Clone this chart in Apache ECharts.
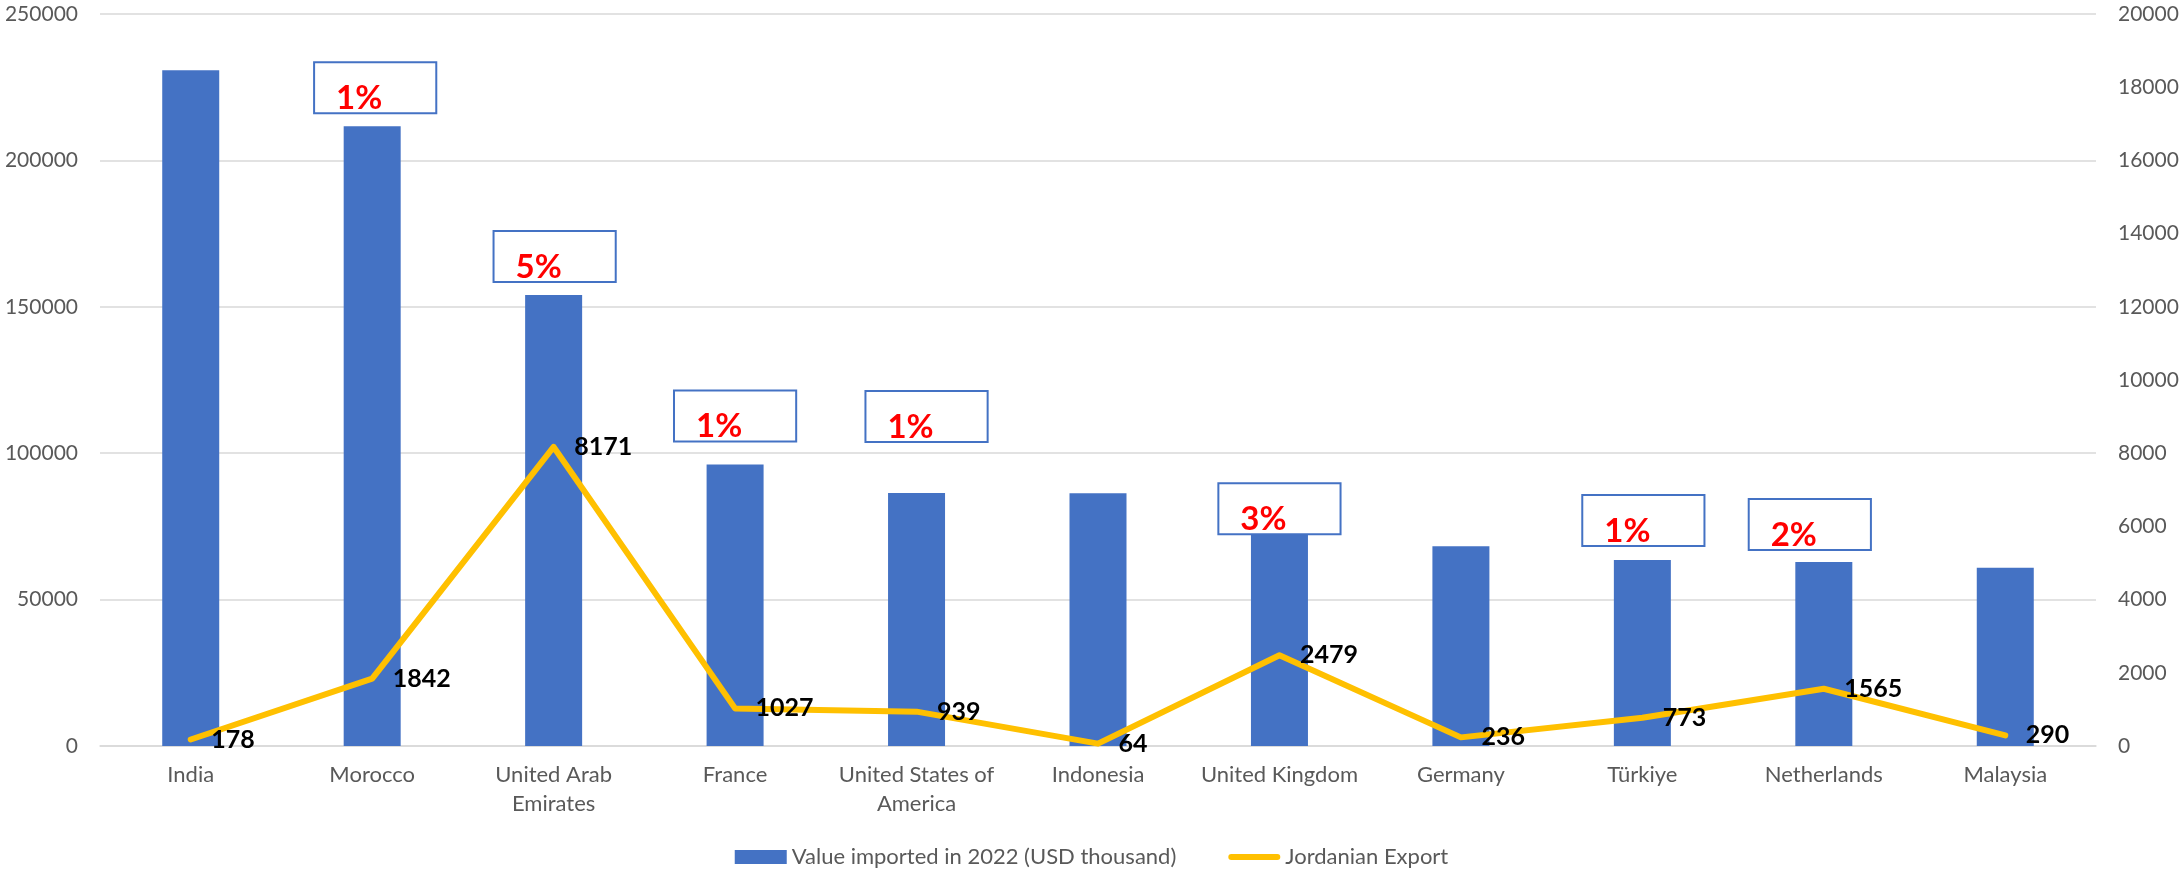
<!DOCTYPE html>
<html>
<head>
<meta charset="utf-8">
<script src="https://cdn.jsdelivr.net/npm/echarts@6/dist/echarts.min.js"></script>
<style>
  html, body { margin: 0; padding: 0; background: #fff; }
  #chart { width: 2183px; height: 871px; }
</style>
</head>
<body>
<div id="chart"></div>
<script>
const countries = [
  'India', 'Morocco', 'United Arab\nEmirates', 'France', 'United States of\nAmerica',
  'Indonesia', 'United Kingdom', 'Germany', 'Türkiye', 'Netherlands', 'Malaysia'
];
const importValues = [230800, 211700, 154000, 96100, 86400, 86300, 72700, 68200, 63500, 62800, 60900];
const jordanianExport = [178, 1842, 8171, 1027, 939, 64, 2479, 236, 773, 1565, 290];
const exportShares = ['', '1%', '5%', '1%', '1%', '', '3%', '', '1%', '2%', ''];

const FONT = 'Lato, "Open Sans", sans-serif';
const GREY = '#595959';

// the share boxes were placed by hand in the original, so nudge a few of them
const boxTweaks = {
  1: { distance: 14, offset: [3, 0] },
  2: { distance: 14, offset: [1, 0] },
  3: { distance: 24, offset: [0, 0] },
  4: { distance: 52, offset: [10, 0] },
  6: { distance: 0, offset: [0, 0] },
  8: { distance: 15, offset: [1, 0] },
  9: { distance: 13, offset: [-14, 0] }
};

const barData = importValues.map((v, i) => {
  if (!exportShares[i]) return { value: v, label: { show: false } };
  const t = boxTweaks[i] || { distance: 14, offset: [0, 0] };
  return { value: v, label: { show: true, distance: t.distance, offset: t.offset } };
});

const plain = (v) => String(v);

const chart = echarts.init(document.getElementById('chart'));

chart.setOption({
  animation: false,
  grid: { left: 100, right: 87, top: 14, bottom: 125 },
  legend: {
    top: 846,
    left: 'center',
    padding: 0,
    itemWidth: 52,
    itemHeight: 14,
    itemGap: 52,
    textStyle: { fontFamily: FONT, fontSize: 22, color: GREY },
    data: [
      { name: 'Value imported in 2022 (USD thousand)', icon: 'rect' },
      // thick rounded stroke like the Excel legend key
      { name: 'Jordanian Export', icon: 'path://M3,0 L49,0 A3,3 0 0 1 49,6 L3,6 A3,3 0 0 1 3,0 Z' }
    ]
  },
  xAxis: {
    type: 'category',
    data: countries,
    axisTick: { show: false },
    axisLine: { lineStyle: { color: '#d9d9d9', width: 1.5 } },
    axisLabel: {
      fontFamily: FONT, fontSize: 22, color: GREY,
      lineHeight: 29, margin: 14, interval: 0
    }
  },
  yAxis: [
    {
      type: 'value',
      min: 0, max: 250000, interval: 50000,
      axisLine: { show: false },
      axisTick: { show: false },
      splitLine: { lineStyle: { color: '#d9d9d9', width: 1.5 } },
      axisLabel: { fontFamily: FONT, fontSize: 21, color: GREY, margin: 22, formatter: plain }
    },
    {
      type: 'value',
      min: 0, max: 20000, interval: 2000,
      position: 'right',
      axisLine: { show: false },
      axisTick: { show: false },
      splitLine: { show: false },
      axisLabel: { fontFamily: FONT, fontSize: 21, color: GREY, margin: 22, formatter: plain }
    }
  ],
  series: [
    {
      name: 'Value imported in 2022 (USD thousand)',
      type: 'bar',
      data: barData,
      barWidth: 57,
      itemStyle: { color: '#4472C4' },
      label: {
        show: true,
        position: 'top',
        formatter: (p) => exportShares[p.dataIndex],
        fontFamily: FONT,
        fontSize: 33,
        fontWeight: 'bold',
        color: '#FF0000',
        lineHeight: 28,
        padding: [21, 53, 0, 21],
        backgroundColor: '#fff',
        borderColor: '#4472C4',
        borderWidth: 2
      }
    },
    {
      name: 'Jordanian Export',
      type: 'line',
      yAxisIndex: 1,
      data: jordanianExport,
      symbol: 'circle',
      symbolSize: 1,
      itemStyle: { color: '#FFC000' },
      lineStyle: { color: '#FFC000', width: 6, cap: 'round', join: 'round' },
      label: {
        show: true,
        position: 'right',
        distance: 20,
        fontFamily: FONT,
        fontSize: 25,
        fontWeight: 'bold',
        color: '#000'
      },
      z: 3
    }
  ]
});
</script>
</body>
</html>
